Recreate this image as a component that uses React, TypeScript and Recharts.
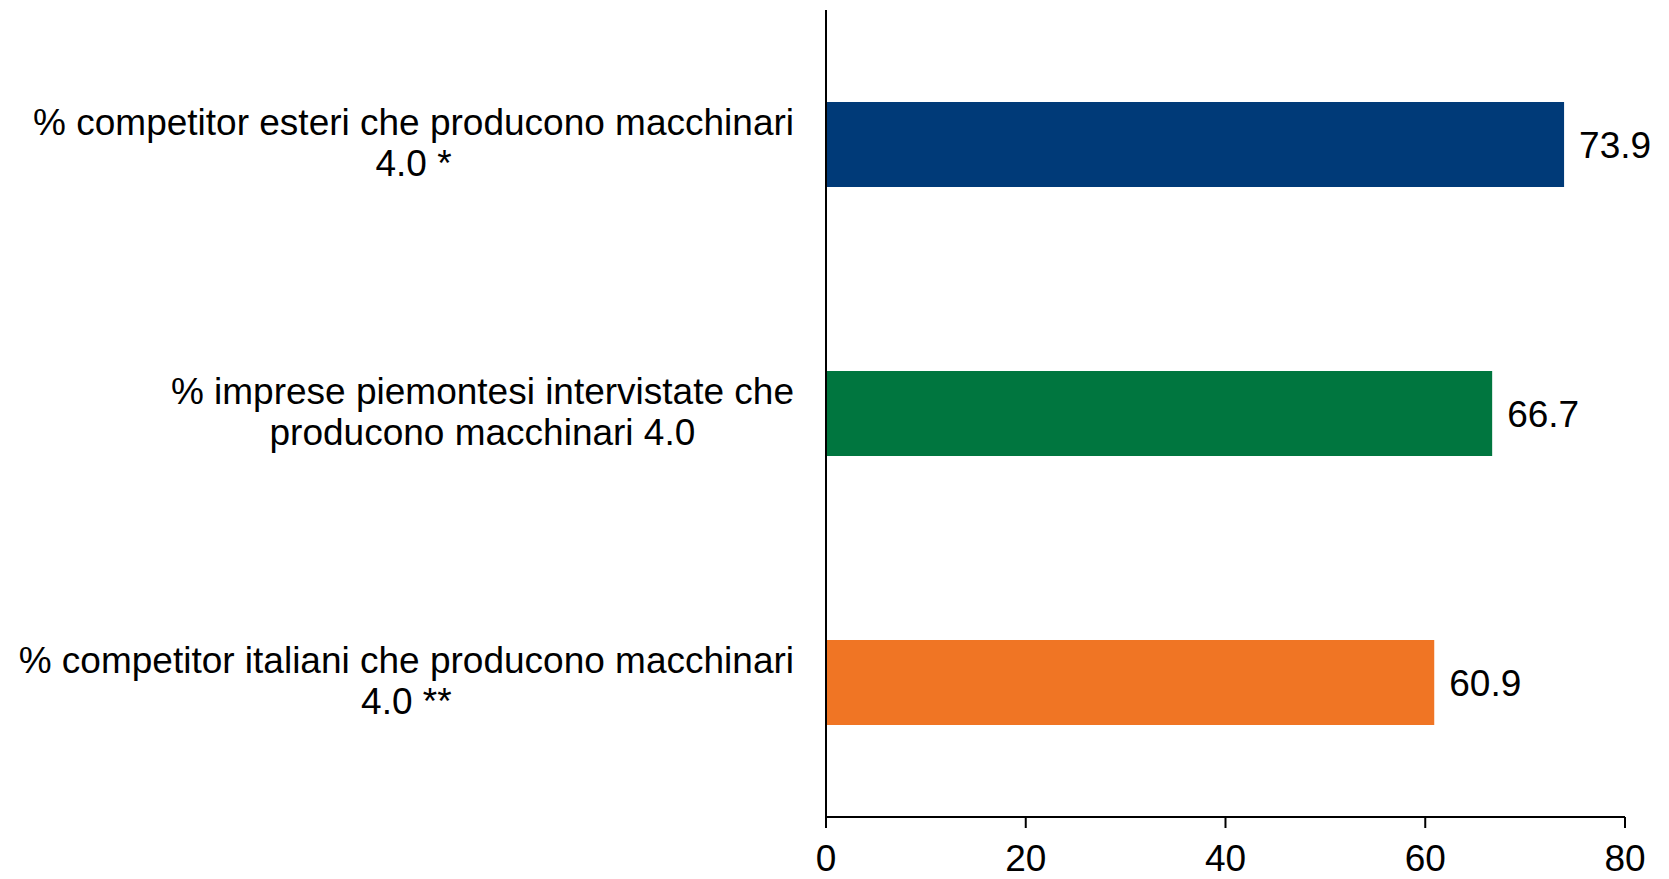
import React from "react";
import { Bar, BarChart, Cell, LabelList, XAxis, YAxis } from "recharts";

const categories = [
  "% competitor esteri che producono macchinari\n4.0 *",
  "% imprese piemontesi intervistate che\nproducono macchinari 4.0",
  "% competitor italiani che producono macchinari\n4.0 **",
];
const values = [73.9, 66.7, 60.9];
const colors = ["#003A78", "#00763F", "#F07524"];
const xTicks = [0, 20, 40, 60, 80];

const data = categories.map((name, i) => ({ name, value: values[i] }));

const FONT = '"Liberation Sans", Arial, sans-serif';
const FONT_SIZE = 37;

let ctx: CanvasRenderingContext2D | null = null;
const measure = (s: string) => {
  if (!ctx) ctx = document.createElement("canvas").getContext("2d");
  if (!ctx) return s.length * 17;
  ctx.font = `${FONT_SIZE}px ${FONT}`;
  return ctx.measureText(s).width;
};

// multi-line label, block right-aligned at x, lines centred inside the block
const CategoryTick = ({ x, y, payload }: any) => {
  const lines = String(payload.value).split("\n");
  const maxW = Math.max(...lines.map(measure));
  const cx = x - maxW / 2;
  const lh = 41;
  const start = y - 2 - ((lines.length - 1) * lh) / 2;
  return (
    <g>
      {lines.map((l, i) => (
        <text
          key={i}
          x={cx}
          y={start + i * lh}
          textAnchor="middle"
          dominantBaseline="central"
          fill="#000"
          fontSize={FONT_SIZE}
          fontFamily={FONT}
        >
          {l}
        </text>
      ))}
    </g>
  );
};

export default function App() {
  return (
    <div style={{ position: "absolute", left: 0, top: 0, background: "#fff" }}>
      <BarChart
        width={1669}
        height={879}
        data={data}
        layout="vertical"
        margin={{ top: 10, right: 44, bottom: 0, left: 0 }}
      >
        <XAxis
          type="number"
          domain={[0, 80]}
          ticks={xTicks}
          height={62}
          stroke="#000"
          strokeWidth={2}
          tickSize={11}
          tickMargin={17}
          tick={{ fill: "#000", fontSize: FONT_SIZE, fontFamily: FONT }}
        />
        <YAxis
          type="category"
          dataKey="name"
          width={826}
          stroke="#000"
          strokeWidth={2}
          tickLine={false}
          tickSize={32}
          tickMargin={0}
          tick={<CategoryTick />}
        />
        <Bar dataKey="value" barSize={85} isAnimationActive={false}>
          {data.map((d, i) => (
            <Cell key={d.name} fill={colors[i]} />
          ))}
          <LabelList
            dataKey="value"
            position="right"
            offset={15}
            fill="#000"
            fontSize={FONT_SIZE}
            fontFamily={FONT}
            formatter={(v: any) => Number(v).toFixed(1)}
          />
        </Bar>
      </BarChart>
    </div>
  );
}
